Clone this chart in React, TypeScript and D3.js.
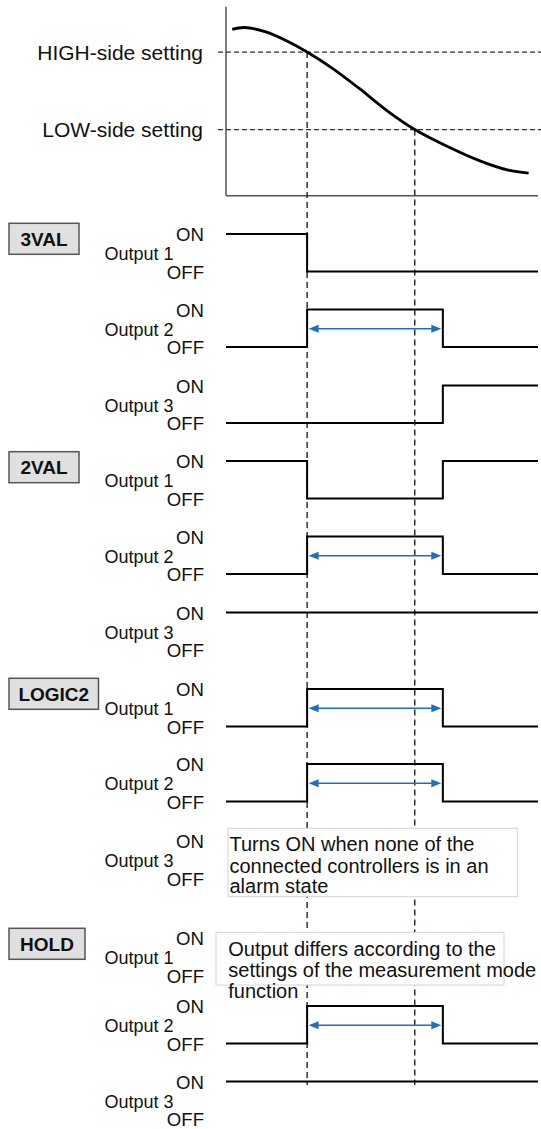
import React from "react";
import * as d3 from "d3";

// ---- data ----
const curveTime = [2, 6, 12.5, 20, 26, 34, 42.5, 52, 60.5, 71, 82, 90.5, 97];
const curveValue = [88, 89, 86.8, 81.5, 76, 67.5, 57, 44.5, 35, 26, 18, 13.5, 12];
const thresholdNames = ["HIGH-side setting", "LOW-side setting"];
const thresholdValues = [76, 35];
const crossTimes = [26, 60.5]; // curve crosses HIGH, then LOW
const eventTimes = [0, 26, 69.5, 100]; // segment boundaries of outputs
const modes = ["3VAL", "2VAL", "LOGIC2", "HOLD"];
const outputNames = ["Output 1", "Output 2", "Output 3"];
// state per segment (1 = ON, 0 = OFF), null = no waveform
const modeStates: (number[] | null)[][] = [
  [[1, 0, 0], [0, 1, 0], [0, 0, 1]],
  [[1, 0, 1], [0, 1, 0], [1, 1, 1]],
  [[0, 1, 0], [0, 1, 0], null],
  [null, [0, 1, 0], [1, 1, 1]],
];
const modeArrows = [
  [false, true, false],
  [false, true, false],
  [true, true, false],
  [false, true, false],
];
const noteLogic2 = ["Turns ON when none of the", "connected controllers is in an", "alarm state"];
const noteHold = ["Output differs according to the", "settings of the measurement mode", "function"];

// ---- layout ----
const W = 541;
const H = 1129;
const rowOnY = [
  [234, 309.5, 385.5],
  [461, 536.5, 612.5],
  [689, 764, 841],
  [938, 1006, 1081.5],
];
const onOffGap = 37.5;
const boxTop = [223.3, 451.7, 678.3, 928.3];
const boxWidth = [70, 70, 89.5, 76];
const FONT = "'Liberation Sans', Arial, Helvetica, sans-serif";

export default function App() {
  const x = d3.scaleLinear().domain([0, 100]).range([226, 538]);
  const yVal = d3.scaleLinear().domain([0, 100]).range([195.7, 6.7]);

  const curvePts: [number, number][] = curveTime.map((t, i) => [t, curveValue[i]]);
  const curvePath = d3
    .line<[number, number]>()
    .x((d) => x(d[0]))
    .y((d) => yVal(d[1]))
    .curve(d3.curveCatmullRom.alpha(0.5))(curvePts);

  const dashBottom = 1085;

  const stepLine = (onY: number) =>
    d3
      .line<[number, number]>()
      .x((d) => x(d[0]))
      .y((d) => (d[1] ? onY : onY + onOffGap))
      .curve(d3.curveStepAfter);

  const arrowColor = "#1f6fc0";

  const notes: { lines: string[]; box: [number, number, number, number]; tx: number; base: number[] }[] = [
    { lines: noteLogic2, box: [228, 828.3, 289.3, 68.4], tx: 229.5, base: [851, 872.5, 893] },
    { lines: noteHold, box: [216, 932.3, 288, 52.7], tx: 228.3, base: [956, 977, 998.3] },
  ];

  return (
    <svg
      width={W}
      height={H}
      style={{ position: "absolute", left: 0, top: 0, background: "#fff" }}
      fontFamily={FONT}
    >
      <rect x={0} y={0} width={W} height={H} fill="#fff" />
      {/* top chart axes */}
      <line x1={x(0)} y1={yVal(100)} x2={x(0)} y2={yVal(0)} stroke="#555" strokeWidth={1.5} />
      <line x1={x(0)} y1={yVal(0)} x2={x(100)} y2={yVal(0)} stroke="#555" strokeWidth={1.5} />
      {thresholdValues.map((v, i) => (
        <g key={"th" + i}>
          <line
            x1={218}
            x2={W}
            y1={yVal(v)}
            y2={yVal(v)}
            stroke="#333"
            strokeWidth={1.3}
            strokeDasharray="5,3"
          />
          <text x={203} y={yVal(v) + 7.5} textAnchor="end" fontSize={21} fill="#111">
            {thresholdNames[i]}
          </text>
        </g>
      ))}
      {/* vertical dashed guides */}
      {crossTimes.map((t, i) => (
        <line
          key={"vd" + i}
          x1={x(t)}
          x2={x(t)}
          y1={yVal(thresholdValues[i])}
          y2={dashBottom}
          stroke="#222"
          strokeWidth={1.4}
          strokeDasharray="6,4"
        />
      ))}
      <path d={curvePath || ""} fill="none" stroke="#000" strokeWidth={2.8} />

      {/* mode sections */}
      {modes.map((m, mi) => {
        const bw = boxWidth[mi];
        return (
          <g key={m}>
            <rect x={9} y={boxTop[mi]} width={bw} height={31} fill="#e0e0e0" stroke="#555" strokeWidth={1.5} />
            <text
              x={9 + bw / 2}
              y={boxTop[mi] + 22.5}
              textAnchor="middle"
              fontWeight="bold"
              fontSize={19}
              fill="#111"
            >
              {m}
            </text>
            {outputNames.map((o, oi) => {
              const onY = rowOnY[mi][oi];
              const offY = onY + onOffGap;
              const st = modeStates[mi][oi];
              const pts: [number, number][] | null = st
                ? [
                    [eventTimes[0], st[0]],
                    [eventTimes[1], st[1]],
                    [eventTimes[2], st[2]],
                    [eventTimes[3], st[2]],
                  ]
                : null;
              return (
                <g key={o}>
                  <text x={204} y={onY + 7.3} textAnchor="end" fontSize={18.6} fill="#111">
                    ON
                  </text>
                  <text x={204} y={offY + 7} textAnchor="end" fontSize={18.6} fill="#111">
                    OFF
                  </text>
                  <text x={173.5} y={(onY + offY) / 2 + 7.5} textAnchor="end" fontSize={18} fill="#111">
                    {o}
                  </text>
                  {pts && (
                    <path d={stepLine(onY)(pts) || ""} fill="none" stroke="#000" strokeWidth={2} />
                  )}
                  {modeArrows[mi][oi] && (() => {
                    const ay = (onY + offY) / 2 + 0.5;
                    const x1 = x(eventTimes[1]) + 1.5;
                    const x2 = x(eventTimes[2]) - 1.5;
                    return (
                      <g>
                        <line x1={x1 + 6} x2={x2 - 6} y1={ay} y2={ay} stroke={arrowColor} strokeWidth={1.4} />
                        <path d={`M${x1},${ay} L${x1 + 10},${ay - 4} L${x1 + 10},${ay + 4} Z`} fill={arrowColor} />
                        <path d={`M${x2},${ay} L${x2 - 10},${ay - 4} L${x2 - 10},${ay + 4} Z`} fill={arrowColor} />
                      </g>
                    );
                  })()}
                </g>
              );
            })}
          </g>
        );
      })}

      {/* notes */}
      {notes.map((n, ni) => (
        <g key={"note" + ni}>
          <rect x={n.box[0]} y={n.box[1]} width={n.box[2]} height={n.box[3]} fill="#fff" stroke="#d4d4d4" strokeWidth={1} />
          {n.lines.map((l, li) => (
            <text key={li} x={n.tx} y={n.base[li]} fontSize={20} fill="#111">
              {l}
            </text>
          ))}
        </g>
      ))}
    </svg>
  );
}
